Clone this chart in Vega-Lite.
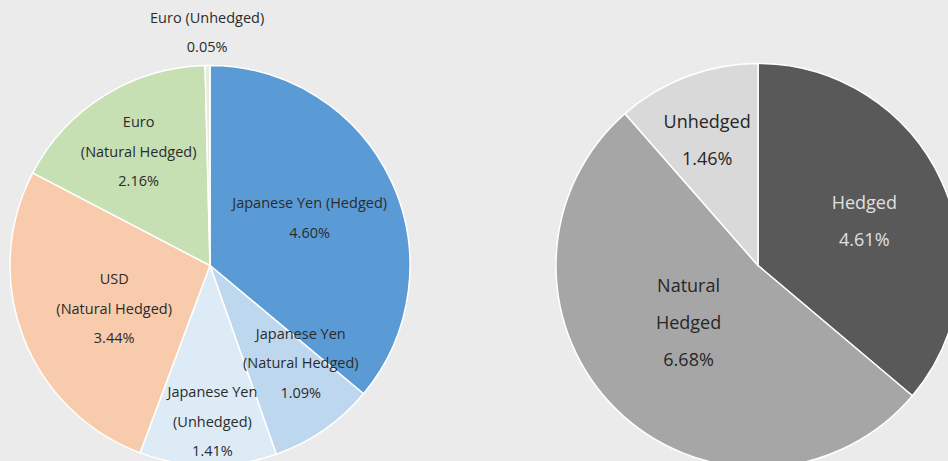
{
  "$schema": "https://vega.github.io/schema/vega-lite/v6.json",
  "width": 948,
  "height": 391,
  "padding": {"top": 70, "left": 0, "right": 0, "bottom": 0},
  "autosize": {"type": "none"},
  "background": "#ebebeb",
  "config": {"view": {"stroke": null}},
  "data": {
    "values": [
      {"chart": "Currency", "category": "Japanese Yen (Hedged)", "value": 4.60, "label": "Japanese Yen (Hedged)\n4.60%"},
      {"chart": "Currency", "category": "Japanese Yen (Natural Hedged)", "value": 1.09, "label": "Japanese Yen\n(Natural Hedged)\n1.09%"},
      {"chart": "Currency", "category": "Japanese Yen (Unhedged)", "value": 1.41, "label": "Japanese Yen\n(Unhedged)\n1.41%"},
      {"chart": "Currency", "category": "USD (Natural Hedged)", "value": 3.44, "label": "USD\n(Natural Hedged)\n3.44%"},
      {"chart": "Currency", "category": "Euro (Natural Hedged)", "value": 2.16, "label": "Euro\n(Natural Hedged)\n2.16%"},
      {"chart": "Currency", "category": "Euro (Unhedged)", "value": 0.05, "label": "Euro (Unhedged)\n0.05%"},
      {"chart": "Hedge", "category": "Hedged", "value": 4.61, "label": "Hedged\n4.61%"},
      {"chart": "Hedge", "category": "Natural Hedged", "value": 6.68, "label": "Natural\nHedged\n6.68%"},
      {"chart": "Hedge", "category": "Unhedged", "value": 1.46, "label": "Unhedged\n1.46%"}
    ]
  },
  "transform": [{"window": [{"op": "row_number", "as": "idx"}]}],
  "encoding": {
    "x": {"field": "chart", "type": "nominal", "scale": {"type": "point", "domain": ["Currency", "Hedge"], "range": [210, 758], "padding": 0}, "axis": null},
    "theta": {"field": "value", "type": "quantitative", "stack": true},
    "order": {"field": "idx", "type": "quantitative"},
    "color": {
      "field": "category", "type": "nominal", "legend": null,
      "scale": {
        "domain": ["Japanese Yen (Hedged)", "Japanese Yen (Natural Hedged)", "Japanese Yen (Unhedged)", "USD (Natural Hedged)", "Euro (Natural Hedged)", "Euro (Unhedged)", "Hedged", "Natural Hedged", "Unhedged"],
        "range": ["#5b9bd5", "#bdd7ee", "#ddebf7", "#f8cbad", "#c6e0b4", "#e2efda", "#595959", "#a6a6a6", "#d9d9d9"]
      }
    }
  },
  "layer": [
    {
      "transform": [{"filter": "datum.chart === 'Currency'"}],
      "layer": [
        {"mark": {"type": "arc", "outerRadius": 200, "stroke": "white", "strokeWidth": 1.5}},
        {
          "mark": {"type": "text", "radius": 110, "dy": -14.75, "lineBreak": "\n", "lineHeight": 29.5, "font": "Open Sans", "fontSize": 14.5, "align": "center", "baseline": "middle"},
          "encoding": {"color": {"value": "#2b2b2b"}, "text": {"condition": {"test": "datum.category === 'Japanese Yen (Hedged)'", "field": "label"}, "value": ""}}
        },
        {
          "mark": {"type": "text", "radius": 108, "dx": 5, "dy": -24, "lineBreak": "\n", "lineHeight": 29.5, "font": "Open Sans", "fontSize": 14.5, "align": "center", "baseline": "middle"},
          "encoding": {"color": {"value": "#2b2b2b"}, "text": {"condition": {"test": "datum.category === 'USD (Natural Hedged)'", "field": "label"}, "value": ""}}
        },
        {
          "mark": {"type": "text", "radius": 135, "dy": -27.5, "lineBreak": "\n", "lineHeight": 29.5, "font": "Open Sans", "fontSize": 14.5, "align": "center", "baseline": "middle"},
          "encoding": {"color": {"value": "#2b2b2b"}, "text": {"condition": {"test": "datum.category === 'Euro (Natural Hedged)'", "field": "label"}, "value": ""}}
        },
        {
          "mark": {"type": "text", "radius": 133, "dx": 15, "dy": -40, "lineBreak": "\n", "lineHeight": 29.5, "font": "Open Sans", "fontSize": 14.5, "align": "center", "baseline": "middle"},
          "encoding": {"color": {"value": "#2b2b2b"}, "text": {"condition": {"test": "datum.category === 'Japanese Yen (Natural Hedged)'", "field": "label"}, "value": ""}}
        },
        {
          "mark": {"type": "text", "radius": 157, "dx": 4, "dy": -29, "lineBreak": "\n", "lineHeight": 29.5, "font": "Open Sans", "fontSize": 14.5, "align": "center", "baseline": "middle"},
          "encoding": {"color": {"value": "#2b2b2b"}, "text": {"condition": {"test": "datum.category === 'Japanese Yen (Unhedged)'", "field": "label"}, "value": ""}}
        },
        {
          "mark": {"type": "text", "radius": 233, "dy": -14, "lineBreak": "\n", "lineHeight": 29.5, "font": "Open Sans", "fontSize": 14.5, "align": "center", "baseline": "middle"},
          "encoding": {"color": {"value": "#2b2b2b"}, "text": {"condition": {"test": "datum.category === 'Euro (Unhedged)'", "field": "label"}, "value": ""}}
        }
      ]
    },
    {
      "transform": [{"filter": "datum.chart === 'Hedge'"}],
      "layer": [
        {"mark": {"type": "arc", "outerRadius": 202, "stroke": "white", "strokeWidth": 1.5}},
        {
          "mark": {"type": "text", "radius": 115, "dx": 2, "dy": -13.5, "lineBreak": "\n", "lineHeight": 37, "font": "Open Sans", "fontSize": 18, "align": "center", "baseline": "middle"},
          "encoding": {"color": {"value": "#e0e0e0"}, "text": {"condition": {"test": "datum.category === 'Hedged'", "field": "label"}, "value": ""}}
        },
        {
          "mark": {"type": "text", "radius": 92, "dx": -5, "dy": -44, "lineBreak": "\n", "lineHeight": 37, "font": "Open Sans", "fontSize": 18, "align": "center", "baseline": "middle"},
          "encoding": {"color": {"value": "#262626"}, "text": {"condition": {"test": "datum.category === 'Natural Hedged'", "field": "label"}, "value": ""}}
        },
        {
          "mark": {"type": "text", "radius": 136, "dx": -3, "dy": -15.5, "lineBreak": "\n", "lineHeight": 37, "font": "Open Sans", "fontSize": 18, "align": "center", "baseline": "middle"},
          "encoding": {"color": {"value": "#262626"}, "text": {"condition": {"test": "datum.category === 'Unhedged'", "field": "label"}, "value": ""}}
        }
      ]
    }
  ],
  "resolve": {"scale": {"theta": "independent"}}
}
